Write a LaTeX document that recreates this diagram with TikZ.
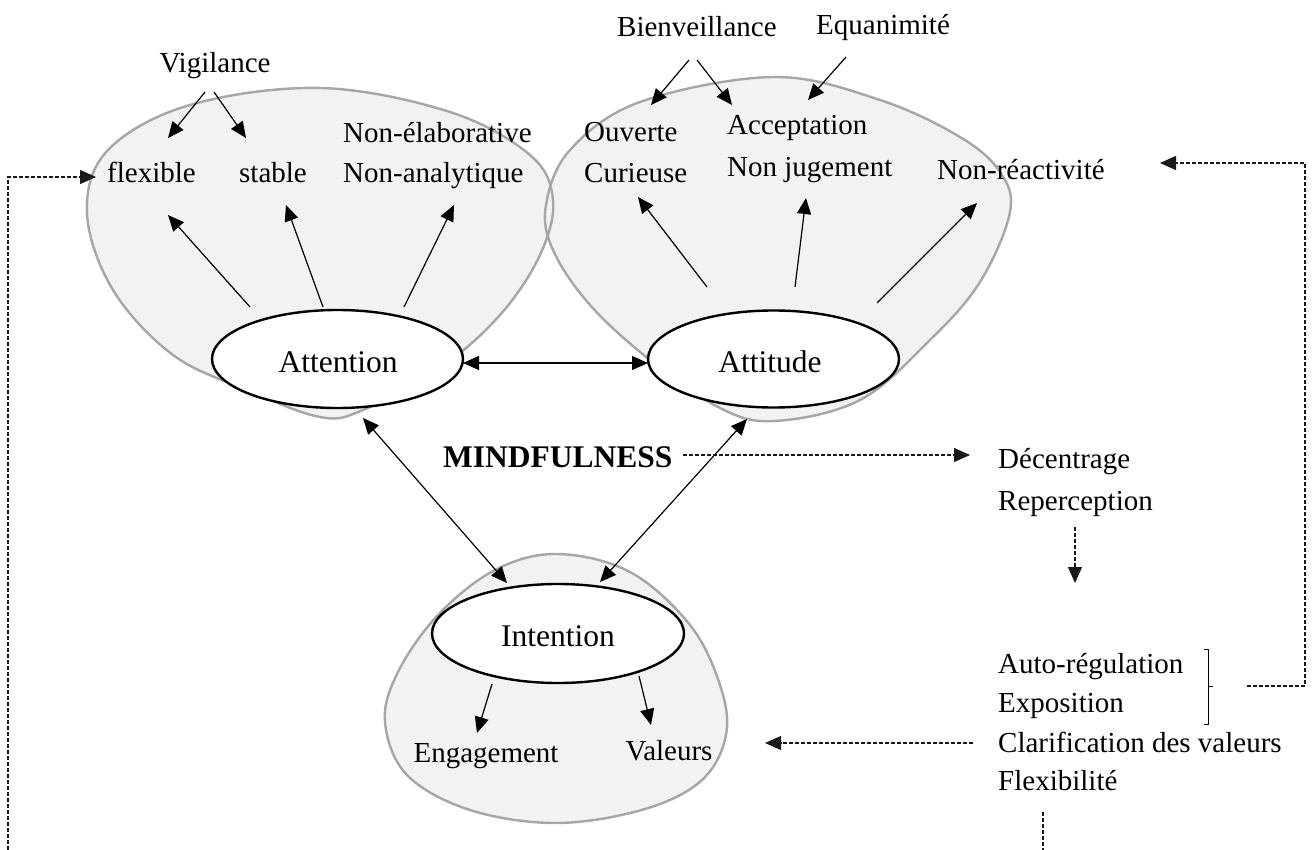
\documentclass[tikz,border=0pt]{standalone}
\usepackage{fontspec}
\setmainfont{Liberation Serif}
\usetikzlibrary{arrows.meta,shapes.geometric}
\definecolor{blobfill}{HTML}{F2F2F2}
\definecolor{blobline}{HTML}{A6A6A6}
\begin{document}
\begin{tikzpicture}[x=1pt,y=-1pt,
  blobfillst/.style={fill=blobfill},
  blobline/.style={draw=blobline, line width=2.4pt},
  oval/.style={ellipse, draw=black, fill=white, line width=2.4pt, inner sep=0pt},
  big/.style={font=\fontsize{31.5}{38}\selectfont, inner sep=0pt},
  lbl/.style={font=\fontsize{29}{35}\selectfont, inner sep=0pt},
  arr/.style={-{Triangle[length=16pt,width=14pt]}, line width=1.2pt},
  dbl/.style={{Triangle[length=16pt,width=14pt]}-{Triangle[length=16pt,width=14pt]}, line width=1.2pt},
  darr/.style={-{Triangle[length=16pt,width=14pt]}, line width=1.1pt, draw=black!90, dash pattern=on 4pt off 2pt},
  dline/.style={line width=1.1pt, draw=black!90, dash pattern=on 4pt off 2pt}]
\useasboundingbox (0,0) rectangle (1312,850);

% blobs
\def\leftblob{plot[smooth cycle, tension=0.6] coordinates {(321,88) (450,112) (530,155) (553,200) (540,255) (500,315) (440,368) (363,410) (320,417) (247,390) (173,355) (113,290) (87,213) (108,150) (190,105)}}
\def\rightblob{plot[smooth cycle, tension=0.6] coordinates {(774,77) (880,100) (960,137) (1000,172) (1010,212) (980,282) (930,340) (860,400) (775,421) (720,408) (650,360) (590,305) (553,250) (546,205) (570,150) (640,102)}}
\def\intblob{plot[smooth cycle, tension=0.6] coordinates {(557,554) (630,572) (690,625) (720,685) (726,735) (702,780) (645,809) (557,823) (470,810) (407,775) (385,722) (398,672) (438,615) (495,570)}}
\fill[blobfillst] \leftblob;
\fill[blobfillst] \rightblob;
\fill[blobfillst] \intblob;
\draw[blobline] \leftblob;
\draw[blobline] \rightblob;
\draw[blobline] \intblob;

% main ellipses
\node[oval, minimum width=251pt, minimum height=98pt] (attn) at (337.5,359) {};
\node[oval, minimum width=251pt, minimum height=97pt] (atti) at (773.5,359) {};
\node[oval, minimum width=252pt, minimum height=99pt] (inte) at (558,633.5) {};
\node[big, anchor=base] (tattn) at (338,372) {Attention};
\node[big, anchor=base] (tatti) at (770,372) {Attitude};
\node[big, anchor=base] (tinte) at (558,646) {Intention};
\node[big, anchor=base west, font=\fontsize{31.5}{38}\selectfont\bfseries] (mind) at (443,467) {MINDFULNESS};

% labels left
\node[lbl, anchor=base] (vig) at (215,73) {Vigilance};
\node[lbl, anchor=base west] (flex) at (107,183) {flexible};
\node[lbl, anchor=base west] (stab) at (239,183) {stable};
\node[lbl, anchor=base west] (nelab) at (343,143) {Non-élaborative};
\node[lbl, anchor=base west] (nanal) at (343,183) {Non-analytique};
% labels right
\node[lbl, anchor=base west] (bien) at (617,37) {Bienveillance};
\node[lbl, anchor=base west] (equa) at (816,35) {Equanimité};
\node[lbl, anchor=base west] (ouv) at (584,142) {Ouverte};
\node[lbl, anchor=base west] (cur) at (584,183) {Curieuse};
\node[lbl, anchor=base west] (acc) at (727,135) {Acceptation};
\node[lbl, anchor=base west] (nju) at (727,177) {Non jugement};
\node[lbl, anchor=base west] (nrea) at (937,180) {Non-réactivité};
% labels intention
\node[lbl, anchor=base] (eng) at (486,762) {Engagement};
\node[lbl, anchor=base] (val) at (669,760) {Valeurs};
% right column
\node[lbl, anchor=base west] (dec) at (998,468) {Décentrage};
\node[lbl, anchor=base west] (rep) at (998,510) {Reperception};
\node[lbl, anchor=base west] (auto) at (998,673) {Auto-régulation};
\node[lbl, anchor=base west] (expo) at (998,712) {Exposition};
\node[lbl, anchor=base west] (clar) at (998,752) {Clarification des valeurs};
\node[lbl, anchor=base west] (flexi) at (998,790) {Flexibilité};

% coordinates for connector ends
\coordinate (v1a) at (205,92);  \coordinate (v1b) at (168,138);
\coordinate (v2a) at (214,92);  \coordinate (v2b) at (246,138);
\coordinate (a1a) at (250,307); \coordinate (a1b) at (168,215);
\coordinate (a2a) at (323,307); \coordinate (a2b) at (286,205);
\coordinate (a3a) at (404,307); \coordinate (a3b) at (454,205);
\coordinate (b1a) at (689,60);  \coordinate (b1b) at (651,105);
\coordinate (b2a) at (697,60);  \coordinate (b2b) at (732,105);
\coordinate (e1a) at (846,57);  \coordinate (e1b) at (808,100);
\coordinate (t1a) at (707,287); \coordinate (t1b) at (638,197);
\coordinate (t2a) at (795,287); \coordinate (t2b) at (806,198);
\coordinate (t3a) at (877,303); \coordinate (t3b) at (977,203);
\coordinate (i1a) at (492,684); \coordinate (i1b) at (477,733);
\coordinate (i2a) at (639,676); \coordinate (i2b) at (651,725);
\coordinate (h1) at (463,363);  \coordinate (h2) at (648,363);
\coordinate (d1) at (363,418);  \coordinate (d2) at (507,583);
\coordinate (d3) at (747,419);  \coordinate (d4) at (600,582);
\coordinate (m1) at (683,455);  \coordinate (m2) at (970,455);
\coordinate (r1) at (1075,527); \coordinate (r2) at (1075,583);
\coordinate (k1) at (1247,686); \coordinate (k2) at (1305,163); \coordinate (k3) at (1160,163);
\coordinate (c1) at (973,743);  \coordinate (c2) at (765,743);
\coordinate (f1) at (1043,812); \coordinate (f2) at (1043,850);
\coordinate (l1) at (8,850);    \coordinate (l2) at (96,177);

% solid arrows
\draw[arr] (v1a) -- (v1b);
\draw[arr] (v2a) -- (v2b);
\draw[arr] (a1a) -- (a1b);
\draw[arr] (a2a) -- (a2b);
\draw[arr] (a3a) -- (a3b);
\draw[arr] (b1a) -- (b1b);
\draw[arr] (b2a) -- (b2b);
\draw[arr] (e1a) -- (e1b);
\draw[arr] (t1a) -- (t1b);
\draw[arr] (t2a) -- (t2b);
\draw[arr] (t3a) -- (t3b);
\draw[arr] (i1a) -- (i1b);
\draw[arr] (i2a) -- (i2b);
\draw[dbl] (h1) -- (h2);
\draw[dbl] (d1) -- (d2);
\draw[dbl] (d3) -- (d4);

% dashed connectors
\draw[darr] (m1) -- (m2);
\draw[darr] (r1) -- (r2);
\draw[darr] (k1) -| (k2) -- (k3);
\draw[darr] (c1) -- (c2);
\draw[dline] (f1) -- (f2);
\draw[darr] (l1) |- (l2);

% bracket
\draw[line width=1pt] (1204,649) -- (1208,649) -- (1208,724) -- (1204,724);
\draw[line width=1pt] (1208,686) -- (1213,686);
\end{tikzpicture}
\end{document}
